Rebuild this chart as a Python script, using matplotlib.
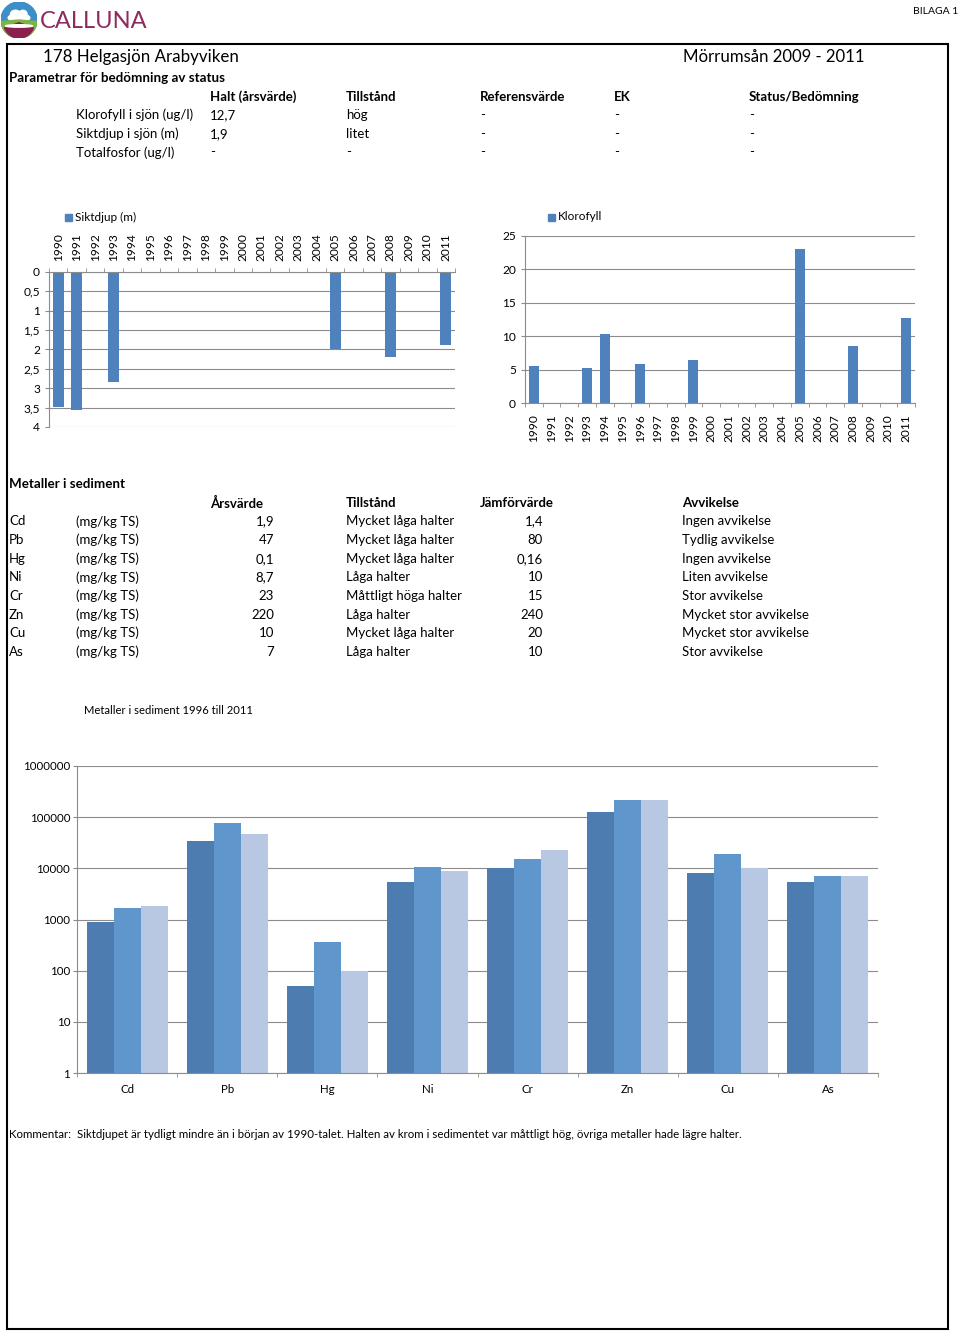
import matplotlib
matplotlib.use("Agg")
import matplotlib.pyplot as plt
from matplotlib.patches import Rectangle, Circle, Wedge, Ellipse
import numpy as np

plt.rcParams["font.family"] = ["Lato", "DejaVu Sans"]

W, H = 960, 1333

# %%
# Data
years = [str(y) for y in range(1990, 2012)]
sikt_years = ["1990", "1991", "1993", "2005", "2008", "2011"]
sikt_vals = [3.49, 3.56, 2.83, 1.99, 2.19, 1.89]
klor_years = ["1990", "1993", "1994", "1996", "1999", "2005", "2008", "2011"]
klor_vals = [5.5, 5.2, 10.4, 5.9, 6.4, 23.0, 8.5, 12.7]

status_head = ["Halt (årsvärde)", "Tillstånd", "Referensvärde", "EK", "Status/Bedömning"]
status_params = ["Klorofyll i sjön (ug/l)", "Siktdjup i sjön (m)", "Totalfosfor (ug/l)"]
status_halt = ["12,7", "1,9", "-"]
status_tillst = ["hög", "litet", "-"]
status_ref = ["-", "-", "-"]
status_ek = ["-", "-", "-"]
status_bed = ["-", "-", "-"]

metals = ["Cd", "Pb", "Hg", "Ni", "Cr", "Zn", "Cu", "As"]
metal_arsv = ["1,9", "47", "0,1", "8,7", "23", "220", "10", "7"]
metal_tillst = ["Mycket låga halter", "Mycket låga halter", "Mycket låga halter", "Låga halter",
                "Måttligt höga halter", "Låga halter", "Mycket låga halter", "Låga halter"]
metal_jamf = ["1,4", "80", "0,16", "10", "15", "240", "20", "10"]
metal_avv = ["Ingen avvikelse", "Tydlig avvikelse", "Ingen avvikelse", "Liten avvikelse",
             "Stor avvikelse", "Mycket stor avvikelse", "Mycket stor avvikelse", "Stor avvikelse"]

sed_s1 = [910, 34000, 50, 5400, 10000, 128000, 8000, 5400]
sed_s2 = [1660, 76000, 360, 10800, 15000, 220000, 18700, 7000]
sed_s3 = [1870, 47000, 100, 8700, 23000, 220000, 10000, 7000]

comment = ("Kommentar:  Siktdjupet är tydligt mindre än i början av 1990-talet. Halten av krom i "
           "sedimentet var måttligt hög, övriga metaller hade lägre halter.")

BLUE = "#4F81BD"
GRID = "#8C8C8C"


def fx(x):
    return x / W


def fy(y):
    return 1 - y / H


def box(x0, y0, x1, y1):
    return [fx(x0), fy(y1), (x1 - x0) / W, (y1 - y0) / H]


def txt(x, y, s, size=9, **kw):
    fig.text(fx(x), fy(y), s, fontsize=size, va="center", **kw)


fig = plt.figure(figsize=(W / 100, H / 100), dpi=100)

# %%
# Page frame, logo and header
fig.patches.append(Rectangle((fx(7), fy(1329)), (948 - 7) / W, (1329 - 44) / H,
                             transform=fig.transFigure, fill=False, ec="black", lw=1.5))

logo = fig.add_axes(box(1, 2, 37, 38))
logo.set_xlim(-1, 1)
logo.set_ylim(-1, 1)
logo.set_aspect("equal")
logo.axis("off")
logo.add_patch(Circle((0, 0), 1, color="#3D8FC8"))
logo.add_patch(Ellipse((0.0, 0.12), 1.2, 0.45, color="white"))
logo.add_patch(Ellipse((-0.2, 0.32), 0.55, 0.45, color="white"))
logo.add_patch(Ellipse((0.22, 0.34), 0.45, 0.4, color="white"))
logo.add_patch(Wedge((0, 0), 1, 185, 355, color="#7CB342"))
logo.add_patch(Wedge((0, -0.15), 0.85, 200, 340, color="#8B1F4E"))
logo.add_patch(Ellipse((0, -0.33), 1.5, 0.14, color="white"))

txt(40, 21, "CALLUNA", size=17, color="#8E2A60")
txt(958, 12, "BILAGA 1", size=7.5, ha="right")

txt(43, 57, "178 Helgasjön Arabyviken", size=12.2)
txt(683, 57, "Mörrumsån 2009 - 2011", size=12.1)

# %%
# Status table
txt(9, 78, "Parametrar för bedömning av status", size=9.6, weight="bold")
cols = [210, 346, 480, 614, 749]
for x, h in zip(cols, status_head):
    txt(x, 97, h, size=9.5, weight="bold")
for i, row in enumerate(zip(status_params, status_halt, status_tillst, status_ref, status_ek, status_bed)):
    y = 115 + i * 18.7
    txt(76, y, row[0], size=9.5)
    for x, v in zip(cols, row[1:]):
        txt(x, y, v, size=9.5)

# %%
# Siktdjup chart (inverted axis, years on top)
ax1 = fig.add_axes(box(49, 272, 455, 427))
xpos = np.arange(len(years))
ax1.bar([years.index(y) for y in sikt_years], sikt_vals, width=0.6, color=BLUE)
ax1.set_xlim(-0.5, len(years) - 0.5)
ax1.set_ylim(4, 0)
ax1.set_yticks(np.arange(0, 4.01, 0.5))
ax1.set_yticklabels(["0", "0,5", "1", "1,5", "2", "2,5", "3", "3,5", "4"])
ax1.xaxis.tick_top()
ax1.set_xticks(xpos)
ax1.set_xticklabels(years, rotation=90, fontsize=8.6)
ax1.tick_params(axis="x", length=0, pad=8)
ax1.set_xticks(np.arange(-0.5, len(years), 1), minor=True)
ax1.tick_params(axis="x", which="minor", length=3, color=GRID, top=True, bottom=False)
ax1.tick_params(axis="y", labelsize=8.6, length=3, color=GRID)
ax1.grid(axis="y", color=GRID, lw=0.8)
ax1.set_axisbelow(True)
for s in ["right", "bottom"]:
    ax1.spines[s].set_visible(False)
for s in ["left", "top"]:
    ax1.spines[s].set_color(GRID)
fig.patches.append(Rectangle((fx(65), fy(221)), 7 / W, 7 / H, transform=fig.transFigure, color=BLUE))
txt(75, 217, "Siktdjup (m)", size=8.5)

# %%
# Klorofyll chart
ax2 = fig.add_axes(box(525, 236, 915, 403))
ax2.bar([years.index(y) for y in klor_years], klor_vals, width=0.57, color=BLUE)
ax2.set_xlim(-0.5, len(years) - 0.5)
ax2.set_ylim(0, 25)
ax2.set_yticks(range(0, 26, 5))
ax2.set_xticks(xpos)
ax2.set_xticklabels(years, rotation=90, fontsize=8.6)
ax2.tick_params(axis="x", length=0, pad=8)
ax2.set_xticks(np.arange(-0.5, len(years), 1), minor=True)
ax2.tick_params(axis="x", which="minor", length=3, color=GRID)
ax2.tick_params(axis="y", labelsize=8.6, length=3, color=GRID)
ax2.grid(axis="y", color=GRID, lw=0.8)
ax2.set_axisbelow(True)
for s in ["right", "top"]:
    ax2.spines[s].set_visible(False)
for s in ["left", "bottom"]:
    ax2.spines[s].set_color(GRID)
fig.patches.append(Rectangle((fx(548), fy(221)), 7 / W, 7 / H, transform=fig.transFigure, color=BLUE))
txt(558, 217, "Klorofyll", size=8.5)

# %%
# Metals table
txt(9, 484, "Metaller i sediment", size=9.6, weight="bold")
txt(210, 503, "Årsvärde", size=9.5, weight="bold")
txt(346, 503, "Tillstånd", size=9.5, weight="bold")
txt(480, 503, "Jämförvärde", size=9.5, weight="bold")
txt(682, 503, "Avvikelse", size=9.5, weight="bold")
for i in range(len(metals)):
    y = 521.5 + i * 18.6
    txt(9, y, metals[i], size=9.5)
    txt(76, y, "(mg/kg TS)", size=9.5)
    txt(274, y, metal_arsv[i], size=9.5, ha="right")
    txt(346, y, metal_tillst[i], size=9.5)
    txt(543, y, metal_jamf[i], size=9.5, ha="right")
    txt(682, y, metal_avv[i], size=9.5)

txt(84, 710, "Metaller i sediment 1996 till 2011", size=8.1)

# %%
# Metals over time, log scale
ax3 = fig.add_axes(box(77, 766, 878, 1073))
mx = np.arange(len(metals))
bw = 0.27
for off, vals, c in zip([-bw, 0, bw], [sed_s1, sed_s2, sed_s3], ["#4D7DB0", "#5F96CB", "#B8C7E2"]):
    ax3.bar(mx + off, vals, width=bw, color=c)
ax3.set_yscale("log")
ax3.set_ylim(1, 1e6)
ax3.set_xlim(-0.5, len(metals) - 0.5)
dec = [10 ** k for k in range(7)]
ax3.set_yticks(dec)
ax3.set_yticklabels([str(d) for d in dec])
ax3.yaxis.set_minor_locator(matplotlib.ticker.NullLocator())
ax3.set_xticks(mx)
ax3.set_xticklabels(metals)
ax3.tick_params(axis="x", length=0, pad=8, labelsize=8.3)
ax3.set_xticks(np.arange(-0.5, len(metals), 1), minor=True)
ax3.tick_params(axis="x", which="minor", length=3, color=GRID)
ax3.tick_params(axis="y", labelsize=8.3, length=3, pad=2, color=GRID)
ax3.grid(axis="y", color=GRID, lw=0.8)
ax3.set_axisbelow(True)
for s in ["right", "top"]:
    ax3.spines[s].set_visible(False)
for s in ["left", "bottom"]:
    ax3.spines[s].set_color(GRID)

txt(9, 1135, comment, size=8.3)

fig.savefig("out.png", dpi=100)
